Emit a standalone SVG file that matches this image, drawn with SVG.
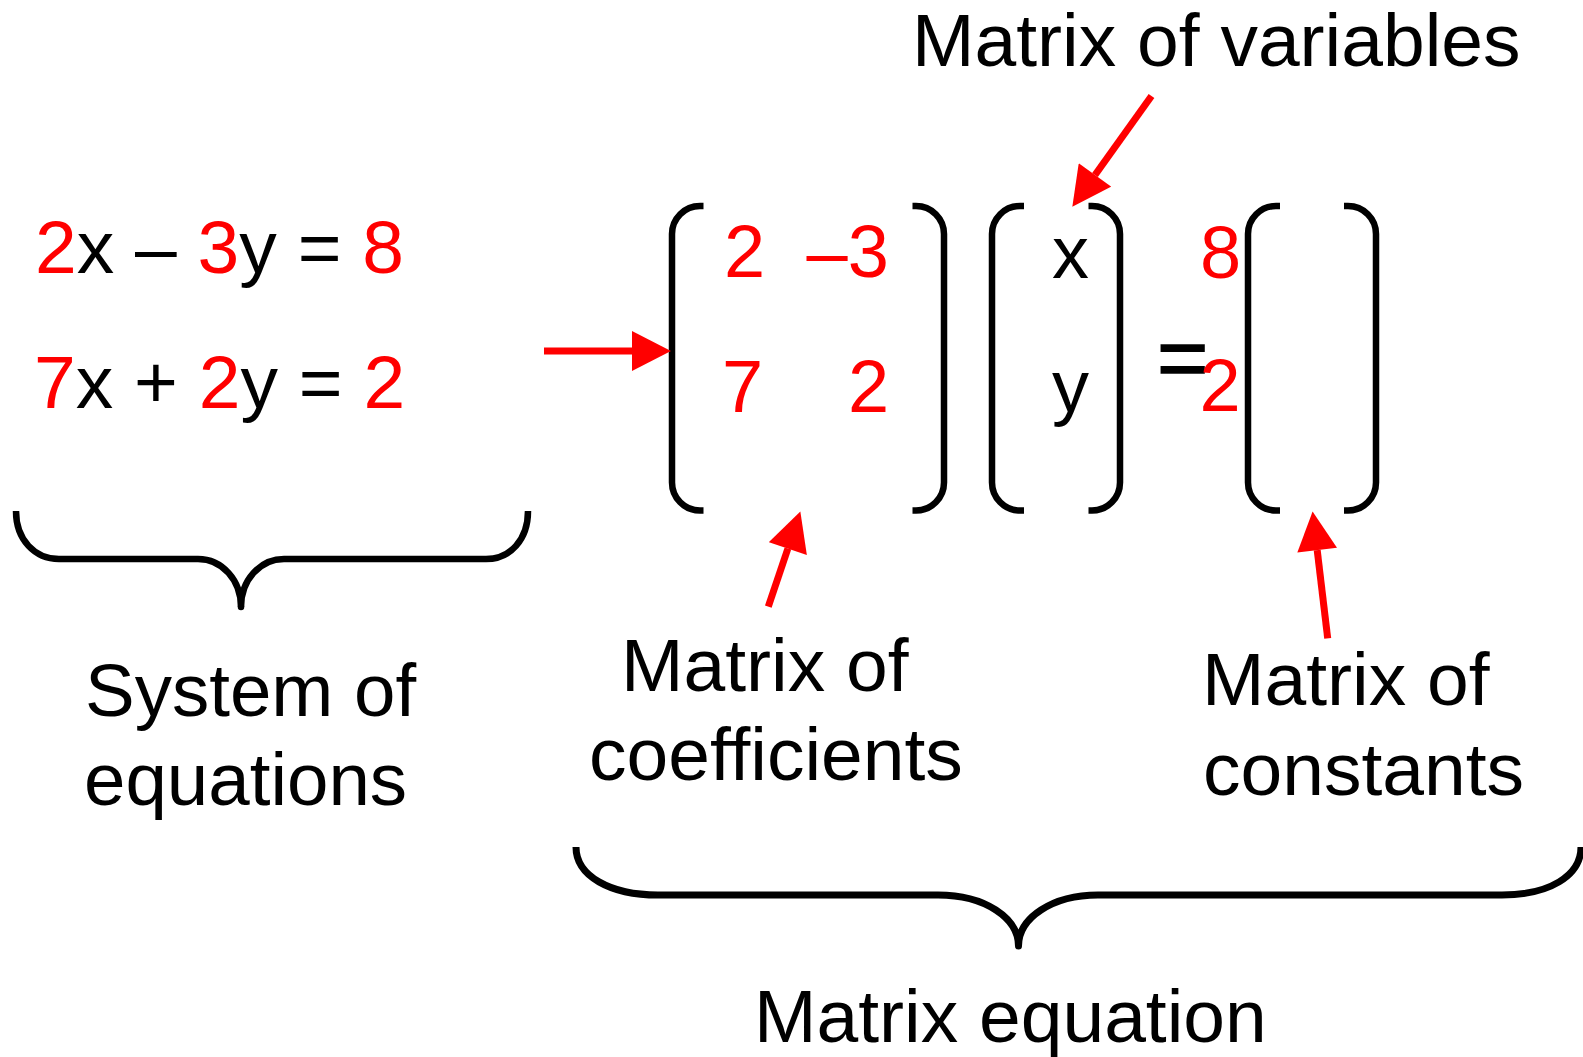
<svg xmlns="http://www.w3.org/2000/svg" width="1583" height="1057" viewBox="0 0 1583 1057">
<defs>
<style>
text{font-family:"Liberation Sans",Arial,Helvetica,sans-serif;fill:#000}
.eq{font-size:74px}
.sys{font-size:75px}
.lbl{font-size:75px}
.r{fill:#ff0000}
.br{fill:none;stroke:#000;stroke-width:6.5;stroke-linecap:butt}
.brace{fill:none;stroke:#000;stroke-width:6.5;stroke-linecap:butt}
.arr{fill:none;stroke:#ff0000;stroke-width:7;marker-end:url(#head)}
</style>
<marker id="head" markerUnits="userSpaceOnUse" markerWidth="40" markerHeight="40" viewBox="0 0 38 39" refX="0" refY="19.5" orient="auto">
<path d="M0,0 L38,19.5 L0,39 Z" fill="#ff0000"/>
</marker>
</defs>
<rect width="1583" height="1057" fill="#fff"/>

<g id="system-of-equations">
<text class="sys" x="35" y="273"><tspan class="r">2</tspan>x – <tspan class="r">3</tspan>y = <tspan class="r">8</tspan></text>
<text class="sys" x="34" y="408"><tspan class="r">7</tspan>x + <tspan class="r">2</tspan>y = <tspan class="r">2</tspan></text>
</g>

<g id="brace-system">
<path class="brace" d="M16,511 C16,540 35,559 59,559 H198 C222,559 241,580 241,607 C241,580 260,559 284,559 H486 C510,559 528,540 528,511"/>
<circle cx="241" cy="607" r="3.25" fill="#000"/>
</g>

<g id="label-system">
<text x="85" y="716" style="font-size:74.5px">System of</text>
<text x="84" y="805" style="font-size:74.5px">equations</text>
</g>

<g id="matrix-coefficients">
<path class="br" d="M703.5,206 H700 A28,28 0 0 0 672,234 V482.5 A28,28 0 0 0 700,510.5 H703.5"/>
<path class="br" d="M912.5,206 H916 A28,28 0 0 1 944,234 V482.5 A28,28 0 0 1 916,510.5 H912.5"/>
<text class="eq r" x="724" y="277">2</text>
<text class="eq r" x="806.5" y="277">–3</text>
<text class="eq r" x="722" y="411.5">7</text>
<text class="eq r" x="848" y="411.5">2</text>
</g>

<g id="matrix-variables">
<path class="br" d="M1024,206 H1020 A28,28 0 0 0 992,234 V482.5 A28,28 0 0 0 1020,510.5 H1024"/>
<path class="br" d="M1088.5,206 H1092 A28,28 0 0 1 1120,234 V482.5 A28,28 0 0 1 1092,510.5 H1088.5"/>
<text class="eq" x="1052" y="278">x</text>
<text class="eq" x="1052" y="412">y</text>
</g>

<g id="equals">
<text x="1157" y="388" style="font-size:88px;stroke:#000;stroke-width:1.5">=</text>
</g>

<g id="matrix-constants">
<text class="eq r" x="1200" y="278">8</text>
<text class="eq r" x="1199.5" y="410.5">2</text>
<path class="br" d="M1280,206 H1276 A28,28 0 0 0 1248,234 V482.5 A28,28 0 0 0 1276,510.5 H1280"/>
<path class="br" d="M1344,206 H1348 A28,28 0 0 1 1376,234 V482.5 A28,28 0 0 1 1348,510.5 H1344"/>
</g>

<g id="label-variables">
<text class="lbl" x="912" y="66">Matrix of variables</text>
</g>

<g id="label-coefficients">
<text class="lbl" x="621" y="691">Matrix of</text>
<text class="lbl" x="589" y="780">coefficients</text>
</g>

<g id="label-constants">
<text class="lbl" x="1202" y="705">Matrix of</text>
<text class="lbl" x="1203" y="795">constants</text>
</g>

<g id="brace-matrix-equation">
<path class="brace" d="M576,847 C576,876 610,895 658,895 H938 C985,895 1018.5,918 1018.5,946 C1018.5,918 1052,895 1098,895 H1502 C1549,895 1581,876 1581,847" style="stroke-width:7"/>
<circle cx="1018.5" cy="946" r="3.5" fill="#000"/>
</g>

<g id="label-matrix-equation">
<text class="lbl" x="754" y="1042">Matrix equation</text>
</g>

<g id="connectors">
<line class="arr" x1="544" y1="351" x2="632" y2="351"/>
<line class="arr" x1="1151.5" y1="96" x2="1095" y2="175"/>
<line class="arr" x1="768.3" y1="606.7" x2="787.9" y2="548.5"/>
<line class="arr" x1="1327.7" y1="638.3" x2="1317.2" y2="550.2"/>
</g>
</svg>
